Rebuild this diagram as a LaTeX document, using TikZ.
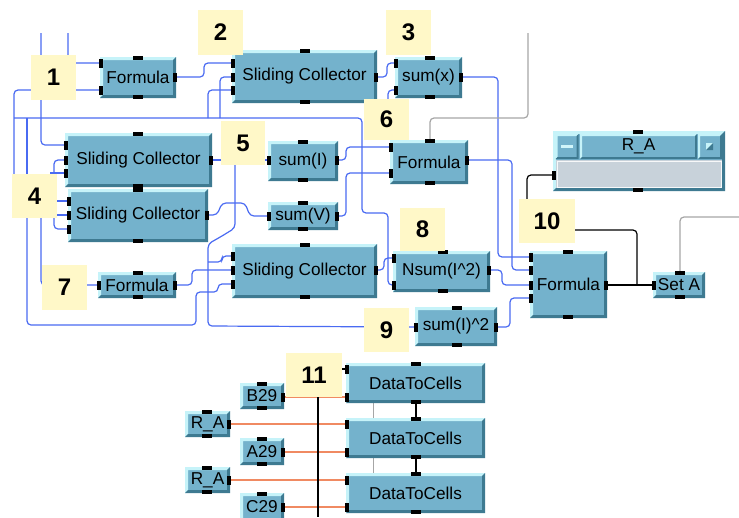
\documentclass[tikz,border=0pt]{standalone}
\usepackage{fontspec}
\newfontfamily\veefont{Liberation Sans}
\usetikzlibrary{calc}

\definecolor{veebody}{HTML}{74B2CC}
\definecolor{veelight}{HTML}{C6F3F9}
\definecolor{veedark}{HTML}{3E7A91}
\definecolor{tagyellow}{HTML}{FFF8C8}
\definecolor{wireblue}{HTML}{4A6BF2}
\definecolor{wiregray}{HTML}{A6A6A6}
\definecolor{wireorange}{HTML}{F08A62}
\definecolor{dispgray}{HTML}{C8D2DA}

\pgfdeclarelayer{wires}
\pgfdeclarelayer{tags}
\pgfsetlayers{wires,main,tags}

\def\bv{3pt}

% object box: name, x0, y0, x1, y1, text
\newcommand\veebox[6]{%
  \node[vee, minimum width={(#4-#2)*1pt}, minimum height={(#5-#3)*1pt}]
    (#1) at ({(#2+#4)/2},{(#3+#5)/2}) {#6};}
% numbered tag: name, x0, y0, x1, y1, text
\newcommand\numtag[6]{%
  \node[numlab, minimum width={(#4-#2)*1pt}, minimum height={(#5-#3)*1pt}]
    (#1) at ({(#2+#4)/2},{(#3+#5)/2}) {#6};}
% terminals
\newcommand\pinL[3]{\fill[pinc] ({#2-1},{#3-4.5}) rectangle ({#2+3},{#3+4.5}); \coordinate (#1) at ({#2-1},#3);}
\newcommand\pinR[3]{\fill[pinc] ({#2-3},{#3-4.5}) rectangle ({#2+1},{#3+4.5}); \coordinate (#1) at ({#2+1},#3);}
\newcommand\pinT[3]{\fill[pinc] ({#2-5},{#3-1}) rectangle ({#2+5},{#3+3}); \coordinate (#1) at (#2,{#3-1});}
\newcommand\pinB[3]{\fill[pinc] ({#2-5},{#3-3}) rectangle ({#2+5},{#3+1}); \coordinate (#1) at (#2,{#3+1});}

\tikzset{
  bevel/.code={\def\bv{#1}},
  vee/.style={rectangle, inner sep=0pt, fill=veebody, text=black,
    font=\veefont\fontsize{17.2}{19}\selectfont, bevel=3pt,
    path picture={
      \path (path picture bounding box.north west) coordinate (vnw)
            (path picture bounding box.south east) coordinate (vse);
      \fill[veelight] (vnw) -- (vnw -| vse) -- ($(vnw -| vse)+(-\bv,-\bv)$)
        -- ($(vnw)+(\bv,-\bv)$) -- ($(vnw |- vse)+(\bv,\bv)$) -- (vnw |- vse) -- cycle;
      \fill[veedark] (vse) -- (vnw -| vse) -- ($(vnw -| vse)+(-\bv,-\bv)$)
        -- ($(vse)+(-\bv,\bv)$) -- ($(vnw |- vse)+(\bv,\bv)$) -- (vnw |- vse) -- cycle;
    }},
  numlab/.style={rectangle, inner sep=0pt, fill=tagyellow, text=black,
    font=\veefont\bfseries\fontsize{24}{26}\selectfont},
  pinc/.style={fill=black},
  bw/.style={draw=wireblue, line width=1.2pt, rounded corners=4pt},
  gw/.style={draw=wiregray, line width=1.2pt, rounded corners=4pt},
  kw/.style={draw=black, line width=1.2pt, rounded corners=4pt},
  ow/.style={draw=wireorange, line width=1.4pt},
}

\begin{document}
\begin{tikzpicture}[x=1pt,y=-1pt]
\useasboundingbox (0,0) rectangle (739,517);

% ---------------- objects ----------------
\veebox{f1}{100}{57}{176}{98}{Formula}
\pinL{f1-i1}{100}{63}\pinL{f1-i2}{100}{90}\pinR{f1-o}{176}{77}\pinT{f1-t}{138}{57}\pinB{f1-b}{138}{98}

\veebox{sc2}{232}{50}{377}{103}{Sliding Collector}
\pinL{sc2-i1}{232}{63}\pinL{sc2-i2}{232}{77}\pinL{sc2-i3}{232}{90}\pinR{sc2-o}{377}{77}\pinT{sc2-t}{305}{50}\pinB{sc2-b}{305}{103}

\veebox{sx}{395}{57}{462}{98}{sum(x)}
\pinL{sx-i1}{395}{63}\pinL{sx-i2}{395}{90}\pinR{sx-o}{462}{77}\pinT{sx-t}{430}{57}\pinB{sx-b}{430}{98}

\veebox{sc1}{65}{133}{212}{187}{Sliding Collector}
\pinL{sc1-i1}{65}{145}\pinL{sc1-i2}{65}{160}\pinL{sc1-i3}{65}{173}\pinR{sc1-o}{212}{160}\pinT{sc1-t}{138}{133}\pinB{sc1-b}{138}{187}

\veebox{sc3}{68}{189}{208}{242}{Sliding Collector}
\pinL{sc3-i1}{68}{201}\pinL{sc3-i2}{68}{215}\pinL{sc3-i3}{68}{229}\pinR{sc3-o}{208}{215}\pinT{sc3-t}{138}{189}\pinB{sc3-b}{138}{242}

\veebox{si}{268}{141}{338}{181}{sum(I)}
\pinL{si-i}{268}{160}\pinR{si-o}{338}{160}\pinT{si-t}{303}{141}\pinB{si-b}{303}{181}

\veebox{sv}{268}{202}{338}{230}{sum(V)}
\pinL{sv-i}{268}{216}\pinR{sv-o}{338}{216}\pinT{sv-t}{303}{202}\pinB{sv-b}{303}{230}

\veebox{f6}{390}{140}{468}{184}{Formula}
\pinL{f6-i1}{390}{147}\pinL{f6-i2}{390}{173}\pinR{f6-o}{468}{160}\pinT{f6-t}{430}{140}\pinB{f6-b}{430}{184}

\veebox{f7}{98}{272}{176}{298}{Formula}
\pinL{f7-i}{98}{285}\pinR{f7-o}{176}{285}\pinT{f7-t}{138}{272}\pinB{f7-b}{138}{298}

\veebox{sc4}{232}{244}{377}{298}{Sliding Collector}
\pinL{sc4-i1}{232}{256}\pinL{sc4-i2}{232}{270}\pinL{sc4-i3}{232}{284}\pinR{sc4-o}{377}{270}\pinT{sc4-t}{305}{244}\pinB{sc4-b}{305}{298}

\veebox{ns}{393}{251}{490}{292}{Nsum(I\textasciicircum 2)}
\pinL{ns-i1}{393}{258}\pinL{ns-i2}{393}{285}\pinR{ns-o}{490}{270}\pinT{ns-t}{443}{251}\pinB{ns-b}{443}{292}

\veebox{si2}{415}{307}{497}{346}{sum(I)\textasciicircum 2}
\pinL{si2-i}{415}{327}\pinR{si2-o}{497}{327}\pinT{si2-t}{457}{307}\pinB{si2-b}{457}{346}

\veebox{f10}{530}{251}{607}{318}{Formula}
\pinL{f10-i1}{530}{257}\pinL{f10-i2}{530}{270}\pinL{f10-i3}{530}{285}\pinL{f10-i4}{530}{298}
\pinR{f10-o}{607}{285}\pinT{f10-t}{568}{251}\pinB{f10-b}{568}{318}

% R_A display
\veebox{ra}{553}{131}{725}{191}{}
\node[vee, bevel=2pt, minimum width=23pt, minimum height=25pt] (ra-min) at (567,146.5) {};
\node[vee, bevel=2pt, minimum width=117pt, minimum height=25pt] (ra-title) at (638.5,146.5) {R\_A};
\node[vee, bevel=2pt, minimum width=24pt, minimum height=25pt] (ra-max) at (710,146.5) {};
\fill[veelight!80!white] (561,145) rectangle (573,148);
\fill[veelight] (706,143) rectangle (713,150);
\fill[veedark] (713,143) -- (713,150) -- (706,150) -- cycle;
\fill[dispgray] (556,160) rectangle (722,188);
\draw[white!85!dispgray, line width=0.8pt] (557,161) rectangle (721,187);
\pinL{ra-i}{553}{175}\pinT{ra-t}{638}{131}\pinB{ra-b}{638}{191}

\veebox{sa}{653}{272}{705}{298}{Set A}
\pinL{sa-i}{653}{285}\pinT{sa-t}{680}{272}\pinB{sa-b}{680}{298}

\veebox{d1}{346}{363}{485}{403}{DataToCells}
\pinL{d1-i1}{346}{369}\pinL{d1-i2}{346}{397}\pinT{d1-t}{416}{363}\pinB{d1-b}{416}{403}
\veebox{d2}{346}{418}{485}{458}{DataToCells}
\pinL{d2-i1}{346}{424}\pinL{d2-i2}{346}{452}\pinT{d2-t}{416}{418}\pinB{d2-b}{416}{458}
\veebox{d3}{346}{473}{485}{513}{DataToCells}
\pinL{d3-i1}{346}{480}\pinL{d3-i2}{346}{507}\pinT{d3-t}{416}{473}\pinB{d3-b}{416}{513}

\veebox{b29}{240}{383}{284}{409}{B29}
\pinR{b29-o}{284}{397}\pinT{b29-t}{262}{383}\pinB{b29-b}{262}{409}
\veebox{ra1}{185}{411}{230}{437}{R\_A}
\pinR{ra1-o}{230}{424}\pinT{ra1-t}{207}{411}\pinB{ra1-b}{207}{437}
\veebox{a29}{240}{438}{284}{465}{A29}
\pinR{a29-o}{284}{452}\pinT{a29-t}{262}{438}\pinB{a29-b}{262}{465}
\veebox{ra2}{185}{467}{230}{493}{R\_A}
\pinR{ra2-o}{230}{480}\pinT{ra2-t}{207}{467}\pinB{ra2-b}{207}{493}
\veebox{c29}{240}{493}{284}{521}{C29}
\pinR{c29-o}{284}{507}\pinT{c29-t}{262}{493}

% free wire ends
\coordinate (inA) at (41,33);
\coordinate (inB) at (68,33);
\coordinate (seqTop) at (528,33);
\coordinate (seqRight) at (739,217);
\coordinate (tap) at (637,285);
\coordinate (busEnd) at (318,517);

% ---------------- wiring ----------------
\begin{pgfonlayer}{wires}
\fill[white] (0,0) rectangle (739,517);

% data lines
\draw[bw] (inA) |- (sc1-i1);
\draw[bw] (inB) |- (f1-i1);
\draw[bw] (14,176) |- (f1-i2);
\draw[bw] (14,118) -- (362,118) -- (362,213) -- (388,213) -- (388,285) -- (ns-i2);
\draw[bw] (27,176) -- (27,118);
\draw[bw] (f1-o) -- (204,77) -- (204,63) -- (sc2-i1);
\draw[bw] (sc2-i2) -| (220,118);
\draw[bw] (sc2-i3) -| (208,118);
\draw[bw] (sc2-o) -- (387,77) -- (387,63) -- (sx-i1);
\draw[bw] (sx-i2) -- (388,90) -- (388,112);
\draw[bw] (sx-o) -- (498,77) -- (498,257) -- (f10-i1);
\draw[bw] (sc1-o) -- (si-i);
\draw[bw] (235,160) -- (235,228) -- (222,236) -- (208,244) -- (208,326) -- (si2-i);
\draw[bw] (208,262) -- (222,262) -- (222,256) -- (sc4-i1);
\draw[bw] (f7-o) -- (192,285) -- (192,270) -- (sc4-i2);
\draw[bw] (27,216) -- (27,325) -- (196,325) -- (196,292) -- (218,292) -- (218,284) -- (sc4-i3);
\draw[bw] (sc3-o) -- (217,215) -- (222,203) -- (245,203) -- (250,216) -- (sv-i);
\draw[bw] (si-o) -- (346,160) -- (346,147) -- (f6-i1);
\draw[bw] (sv-o) -- (346,216) -- (346,173) -- (f6-i2);
\draw[bw] (f6-o) -- (512,160) -- (512,270) -- (f10-i2);
\draw[bw] (ns-o) -- (502,270) -- (502,285) -- (f10-i3);
\draw[bw] (si2-o) -- (510,327) -- (510,298) -- (f10-i4);
\draw[bw] (sc4-o) -- (384,270) -- (384,258) -- (ns-i1);
\draw[bw] (54,178) -- (54,160) -- (sc1-i2);
\draw[bw] (50,173) -- (sc1-i3);
\draw[bw] (50,201) -- (sc3-i1);
\draw[bw] (50,215) -- (sc3-i2);
\draw[bw] (54,212) -- (54,229) -- (sc3-i3);
\draw[bw] (41,214) |- (f7-i);

% sequence lines
\draw[gw] (f6-t) -- (430,118) -- (528,118) -- (seqTop);
\draw[gw] (sa-t) |- (seqRight);
\draw[gw] ([xshift=28pt]d1.south west) -- ([xshift=28pt]d2.north west);
\draw[gw] ([xshift=28pt]d2.south west) -- ([xshift=28pt]d3.north west);

% result lines
\draw[kw] (f10-o) -- (sa-i);
\draw[kw] (tap) -- (637,230) -- (527,230) -- (527,175) -- (ra-i);

% spreadsheet inputs
\draw[ow] (b29-o) -- (d1-i2);
\draw[ow] (ra1-o) -- (d2-i1);
\draw[ow] (a29-o) -- (d2-i2);
\draw[ow] (ra2-o) -- (d3-i1);
\draw[ow] (c29-o) -- (d3-i2);
\draw[kw] (336,369) -- (d1-i1);
\draw[kw] (318,392) -- (busEnd);
\draw[kw] (d1-b) -- (d2-t);
\draw[kw] (d2-b) -- (d3-t);
\end{pgfonlayer}

% ---------------- numbered tags ----------------
\begin{pgfonlayer}{tags}
\numtag{t1}{31}{55}{76}{100}{1}
\numtag{t2}{198}{10}{243}{55}{2}
\numtag{t3}{386}{10}{431}{55}{3}
\numtag{t4}{12}{174}{57}{218}{4}
\numtag{t5}{221}{121}{265}{165}{5}
\numtag{t6}{364}{99}{409}{140}{6}
\numtag{t7}{42}{265}{87}{310}{7}
\numtag{t8}{400}{208}{445}{251}{8}
\numtag{t9}{364}{308}{409}{352}{9}
\numtag{t10}{519}{199}{575}{243}{10}
\numtag{t11}{286}{353}{342}{397}{11}
\end{pgfonlayer}
\end{tikzpicture}
\end{document}
